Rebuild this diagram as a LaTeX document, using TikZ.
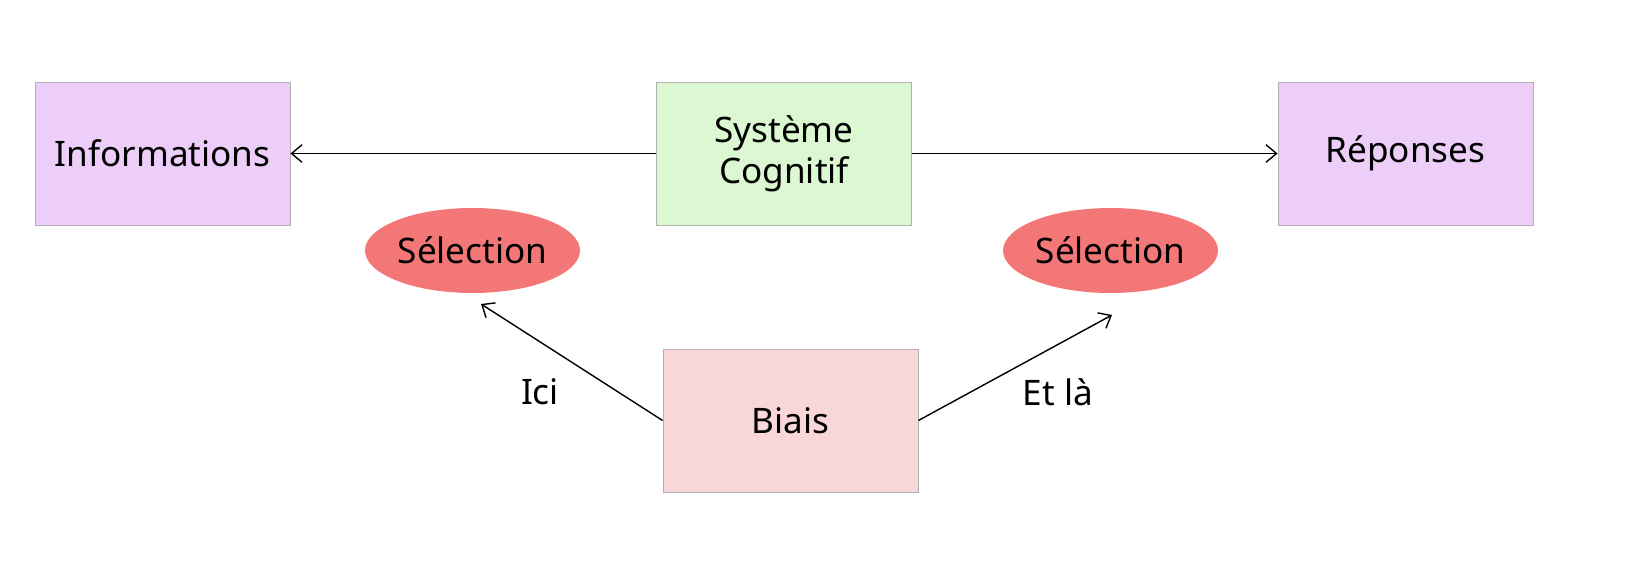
\documentclass[tikz,border=0pt]{standalone}
\usepackage{fontspec}
\setmainfont{Noto Sans}
\usetikzlibrary{arrows.meta,shapes.geometric}

\definecolor{mauve}{RGB}{237,206,249}
\definecolor{vertpale}{RGB}{220,248,210}
\definecolor{rosepale}{RGB}{249,214,215}
\definecolor{rouge}{RGB}{243,119,118}
\definecolor{bord}{RGB}{178,178,178}

\tikzset{
  boite/.style={draw=bord, line width=0.5pt, minimum width=5.1cm, minimum height=2.86cm, align=center,
    font=\fontsize{20}{23.5}\selectfont},
  bulle/.style={ellipse, fill=rouge, minimum width=4.3cm, minimum height=1.7cm, inner sep=0pt,
    font=\fontsize{20}{23.5}\selectfont},
  fleche/.style={line width=0.8pt, -{Straight Barb[length=6pt, width=10pt]}},
  etiquette/.style={font=\fontsize{20}{23.5}\selectfont}
}

\begin{document}
\begin{tikzpicture}[x=0.02cm, y=-0.02cm]
\useasboundingbox (0,0) rectangle (1649,563);

% Boites du haut
\node[boite, fill=mauve] (info) at (162.5,153.5) {Informations};
\node[boite, fill=vertpale] (sys) at (784,153.5) {Système\\Cognitif};
\node[boite, fill=mauve] (rep) at (1405.5,153.5) {Réponses};

% Selections
\node[bulle] (selg) at (472.5,250.5) {Sélection};
\node[bulle] (seld) at (1110.5,250.5) {Sélection};

% Biais
\node[boite, fill=rosepale] (biais) at (790.5,420.5) {Biais};

\coordinate (pointeg) at (481,304);
\coordinate (pointed) at (1112,315);

% Fleches
\draw[fleche] (sys.west) -- (info.east);
\draw[fleche] (sys.east) -- (rep.west);
\draw[fleche] (biais.west) -- (pointeg);
\draw[fleche] (biais.east) -- (pointed);

% Textes des fleches
\node[etiquette] (ici) at (540,392) {Ici};
\node[etiquette] (etla) at (1058,392) {Et là};

\end{tikzpicture}
\end{document}
